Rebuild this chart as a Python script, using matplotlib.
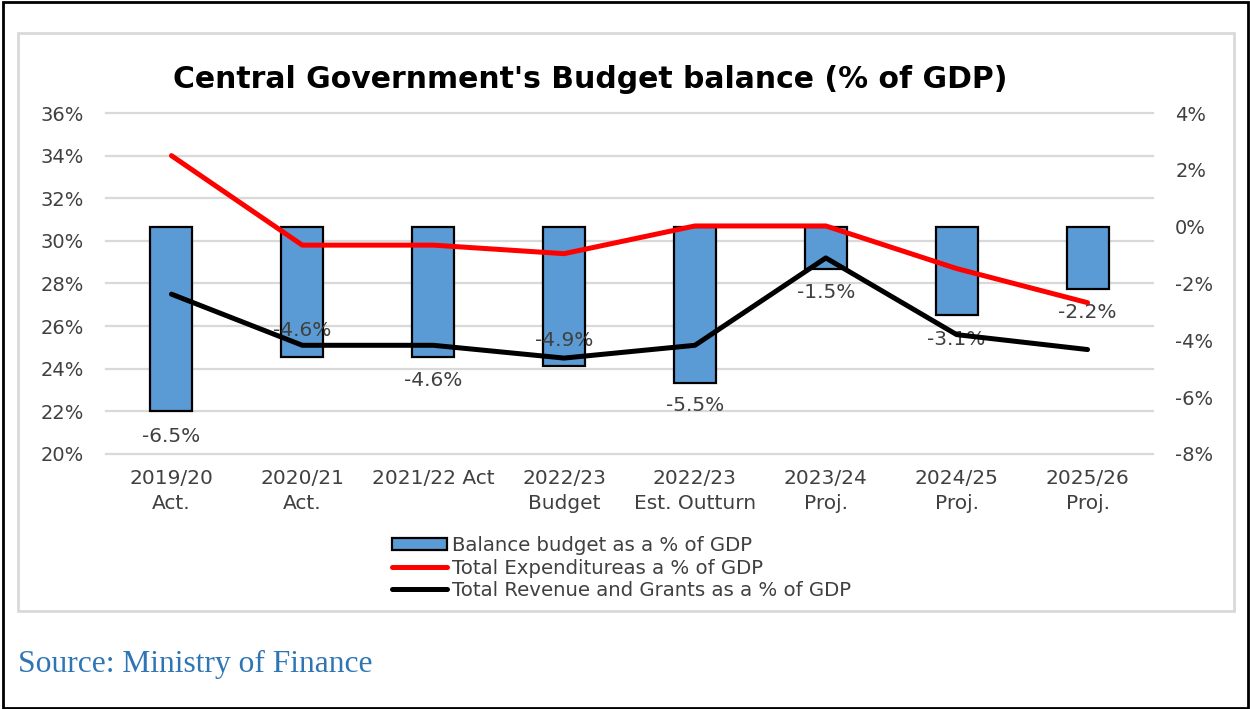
import matplotlib
matplotlib.use('Agg')
import matplotlib.pyplot as plt
from matplotlib.patches import Rectangle, Patch
from matplotlib.lines import Line2D
from matplotlib.ticker import FuncFormatter

# Budget figures, % of GDP
periods = ["2019/20\nAct.", "2020/21\nAct.", "2021/22 Act", "2022/23\nBudget",
           "2022/23\nEst. Outturn", "2023/24\nProj.", "2024/25\nProj.", "2025/26\nProj."]
balance = [-6.5, -4.6, -4.6, -4.9, -5.5, -1.5, -3.1, -2.2]
expenditure = [34.0, 29.8, 29.8, 29.4, 30.7, 30.7, 28.7, 27.1]
revenue = [27.5, 25.1, 25.1, 24.5, 25.1, 29.2, 25.6, 24.9]
left_ticks = [20, 22, 24, 26, 28, 30, 32, 34, 36]
right_ticks = [-8, -6, -4, -2, 0, 2, 4]
series_names = ["Balance budget as a % of GDP", "Total Expenditureas a % of GDP",
                "Total Revenue and Grants as a % of GDP"]

# where each balance label sits relative to the bar end (points)
label_dy = [-18, 19, -17, 18, -16, -17, -18, -17]

BAR = '#5b9bd5'
TXT = '#404040'
GRID = '#d9d9d9'
FONT = 'DejaVu Sans'

fig = plt.figure(figsize=(12.5, 7.09), dpi=100)

# outer frame and chart-area box
fig.patches.append(Rectangle((0.002, 0.002), 0.996, 0.995, transform=fig.transFigure,
                             fill=False, edgecolor='black', linewidth=2))
fig.patches.append(Rectangle((18 / 1250, 1 - 611 / 709), (1234 - 18) / 1250, (611 - 33) / 709,
                             transform=fig.transFigure, fill=False, edgecolor=GRID, linewidth=2))

ax = fig.add_axes([0.0848, 0.3597, 0.8376, 0.4809])
ax2 = ax.twinx()
ax.set_zorder(ax2.get_zorder() + 1)
ax.patch.set_visible(False)

x = list(range(len(periods)))

# bars on the right-hand scale
ax2.bar(x, balance, width=0.32, color=BAR, edgecolor='black', linewidth=1.6, zorder=2)
for xi, v, dy in zip(x, balance, label_dy):
    ax2.annotate(f"{v:.1f}%", (xi, v), xytext=(0, dy), textcoords='offset points',
                 ha='center', va='center', fontsize=14.5, color=TXT, family=FONT, zorder=3)
ax2.set_ylim(-8, 4)
ax2.set_yticks(right_ticks)
ax2.yaxis.set_major_formatter(FuncFormatter(lambda v, p: f"{v:.0f}%"))
# horizontal grid follows the left-hand ticks
for yv in left_ticks:
    ax2.axhline(-8 + (yv - 20) * 0.75, color=GRID, linewidth=1.6, zorder=1, clip_on=False)

# lines on the left-hand scale
ax.plot(x, expenditure, color='#ff0000', linewidth=3.6, solid_capstyle='round', zorder=4)
ax.plot(x, revenue, color='black', linewidth=3.6, solid_capstyle='round', zorder=4)
ax.set_ylim(20, 36)
ax.set_yticks(left_ticks)
ax.yaxis.set_major_formatter(FuncFormatter(lambda v, p: f"{v:.0f}%"))
ax.set_xlim(-0.5, len(periods) - 0.5)
ax.set_xticks(x)
ax.set_xticklabels(periods, fontsize=14.5, color=TXT, family=FONT, linespacing=1.35)

for a in (ax, ax2):
    for s in a.spines.values():
        s.set_visible(False)
ax.tick_params(axis='y', length=0, pad=16, labelsize=14, labelcolor=TXT)
ax.tick_params(axis='x', length=0, pad=11)
ax2.tick_params(axis='y', length=0, pad=16, labelsize=14, labelcolor=TXT)
for lab in ax.get_yticklabels() + ax2.get_yticklabels():
    lab.set_family(FONT)

fig.text(0.472, 1 - 80 / 709, "Central Government's Budget balance (% of GDP)",
         ha='center', va='center', fontsize=21.5, fontweight='bold', family=FONT)

handles = [
    Patch(facecolor=BAR, edgecolor='black', linewidth=1.6),
    Line2D([0], [0], color='#ff0000', linewidth=3.6, solid_capstyle='round'),
    Line2D([0], [0], color='black', linewidth=3.6, solid_capstyle='round'),
]
leg = fig.legend(handles, series_names, loc='upper left', bbox_to_anchor=(392 / 1250, 1 - 536 / 709),
                 frameon=False, borderpad=0, borderaxespad=0,
                 handlelength=2.8, handleheight=0.6, handletextpad=0.25, labelspacing=0.18,
                 prop={'family': FONT, 'size': 14.2})
for t in leg.get_texts():
    t.set_color(TXT)

fig.text(18 / 1250, 1 - 664 / 709, "Source: Ministry of Finance", ha='left', va='center',
         fontsize=22.7, color='#2e75b6', family='Liberation Serif')

fig.savefig('out.png', dpi=100)
